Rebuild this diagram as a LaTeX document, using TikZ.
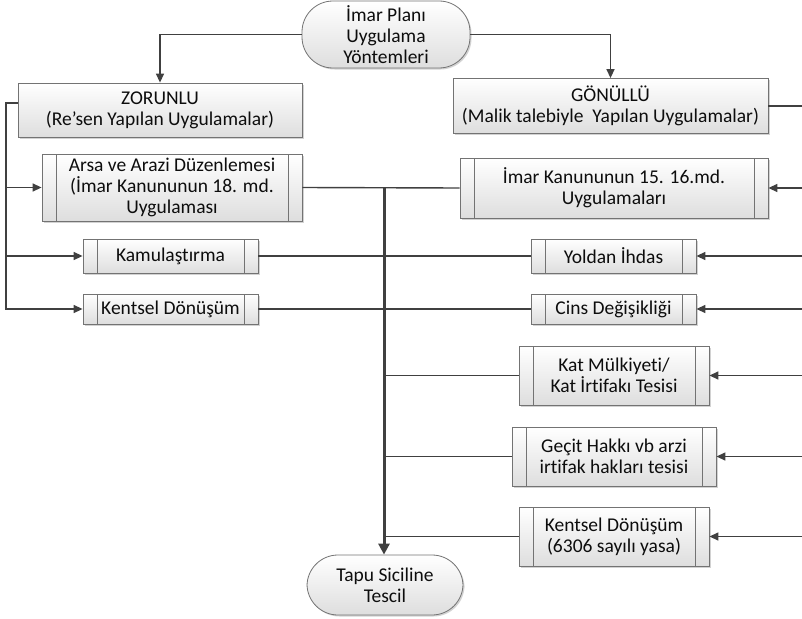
\documentclass[tikz,border=0pt]{standalone}
\usepackage{fontspec}
\setmainfont[Ligatures=NoCommon]{Carlito}
\usetikzlibrary{arrows.meta,shadows}

\tikzset{
  line/.style={draw=black!75, line width=1.4pt},
  arr/.style={line, -{Triangle[length=9pt,width=8pt]}},
  base/.style={draw=black!55, line width=.8pt, top color=white, bottom color=black!13,
    drop shadow={shadow xshift=1.5pt, shadow yshift=-1.5pt, fill=black!35, opacity=.5},
    font=\fontsize{19.5}{21}\selectfont, align=center, text=black!95, inner sep=0pt},
  procbox/.style={base, rectangle},
  subproc/.style={base, rectangle,
    path picture={\draw[black!55, line width=.8pt]
      ([xshift=14pt]path picture bounding box.north west) -- ([xshift=14pt]path picture bounding box.south west)
      ([xshift=-14pt]path picture bounding box.north east) -- ([xshift=-14pt]path picture bounding box.south east);}},
  terminal/.style={base, rounded corners=31pt}
}

\begin{document}
\begin{tikzpicture}[x=1pt, y=-1pt]

      \useasboundingbox (0,0) rectangle (802,618);

      \begin{scope}[every node/.style={terminal}]
        \node (1)  at (386,34.5) [minimum width=168pt, minimum height=67pt] {İmar Planı\\Uygulama\\Yöntemleri};
        \node (12) at (385,585)  [minimum width=156pt, minimum height=60pt] {Tapu Siciline\\Tescil};
      \end{scope}

      \begin{scope}[every node/.style={procbox}]
        \node (2) at (160,110)   [minimum width=284pt, minimum height=54pt] {ZORUNLU\\(Re’sen Yapılan Uygulamalar)};
        \node (3) at (610.5,106) [minimum width=315pt, minimum height=55pt] {GÖNÜLLÜ\\(Malik talebiyle~ Yapılan Uygulamalar)};
      \end{scope}

      \begin{scope}[every node/.style={subproc}]
        \node (4)  at (172,187.5) [minimum width=260pt, minimum height=67pt] {Arsa ve Arazi Düzenlemesi\\(İmar Kanununun 18. md.\\Uygulaması};
        \node (5)  at (170.5,256) [minimum width=175pt, minimum height=34pt] {Kamulaştırma};
        \node (6)  at (170.5,309) [minimum width=175pt, minimum height=30pt] {Kentsel Dönüşüm};
        \node (7)  at (614,188)   [minimum width=308pt, minimum height=60pt] {İmar Kanununun 15. 16.md.\\Uygulamaları};
        \node (8)  at (613.5,256) [minimum width=165pt, minimum height=34pt] {Yoldan İhdas};
        \node (9)  at (613.5,309) [minimum width=165pt, minimum height=30pt] {Cins Değişikliği};
        \node (10) at (614,375.5) [minimum width=190pt, minimum height=59pt] {Kat Mülkiyeti/\\Kat İrtifakı Tesisi};
        \node (11) at (614,456.5) [minimum width=204pt, minimum height=59pt] {Geçit Hakkı vb arzi\\irtifak hakları tesisi};
        \node (13) at (614,536.5) [minimum width=190pt, minimum height=59pt] {Kentsel Dönüşüm\\(6306 sayılı yasa)};
      \end{scope}

      % buses and the trunk down to the registry
      \coordinate (lb) at (6,103);
      \coordinate (rb) at (806,106);
      \coordinate (tr) at (384,187.5);

      \draw[arr] (1.west) -| (2.north);
      \draw[arr] (1.east) -| (3.north);

      \draw[arr] ([yshift=7pt]2.west) -- (lb) |- (6.west);
      \draw[arr] (lb |- 4.west) -- (4.west);
      \draw[arr] (lb |- 5.west) -- (5.west);

      \draw[line] (3.east) -- (rb) -- (rb |- 13.east);
      \foreach \n in {7,8,9,10,11,13}
        \draw[arr] (rb |- \n.east) -- (\n.east);

      \draw[line] (4.east) -- (7.west);
      \draw[line] (5.east) -- (8.west);
      \draw[line] (6.east) -- (9.west);
      \foreach \n in {10,11,13}
        \draw[line] (\n.west) -- (tr |- \n.west);

      \draw[line, line width=3pt, -{Triangle[length=11pt,width=11pt]}] (tr) -- (tr |- 12.north);

    \end{tikzpicture}
\end{document}
